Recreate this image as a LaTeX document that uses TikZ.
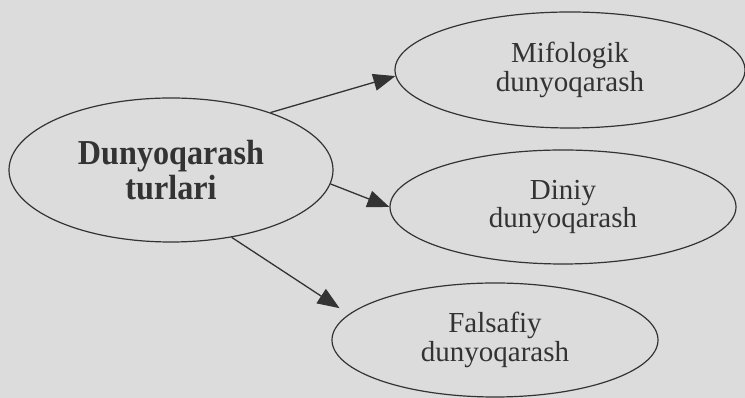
\documentclass[tikz,border=0pt]{standalone}
\usepackage{fontspec}
\setmainfont{Liberation Serif}
\newfontfamily\mainbold{Liberation Serif}[FakeStretch=0.92]
\usetikzlibrary{shapes.geometric,arrows.meta}
\definecolor{bgcol}{HTML}{DCDCDC}
\definecolor{ink}{HTML}{333333}
\tikzset{
  oval/.style={ellipse, draw=ink, line width=1.2pt, inner sep=0pt, text=ink, align=center},
  smalltext/.style={font=\fontsize{29}{28.5}\selectfont},
  bigtext/.style={font=\mainbold\bfseries\fontsize{35}{35}\selectfont},
  arr/.style={draw=ink, line width=1.3pt, -{Triangle[length=22pt,width=17pt]}},
}
\begin{document}
\begin{tikzpicture}[x=1pt,y=1pt]
  \fill[bgcol] (0,0) rectangle (745,398);
  \useasboundingbox (0,0) rectangle (745,398);
  \node[oval, bigtext, minimum width=324pt, minimum height=144pt] (main) at (171,228) {Dunyoqarash\\turlari};
  \node[oval, smalltext, minimum width=350pt, minimum height=116pt] (mif) at (570,328) {Mifologik\\dunyoqarash};
  \node[oval, smalltext, minimum width=346pt, minimum height=114pt] (din) at (563,191) {Diniy\\dunyoqarash};
  \node[oval, smalltext, minimum width=326pt, minimum height=114pt] (fal) at (495,58) {Falsafiy\\dunyoqarash};
  \draw[arr] (main.30) -- (mif.182);
  \draw[arr] (main.-5) -- (din.west);
  \draw[arr, shorten >=11pt] (main.-48) -- (fal.170);
\end{tikzpicture}
\end{document}
